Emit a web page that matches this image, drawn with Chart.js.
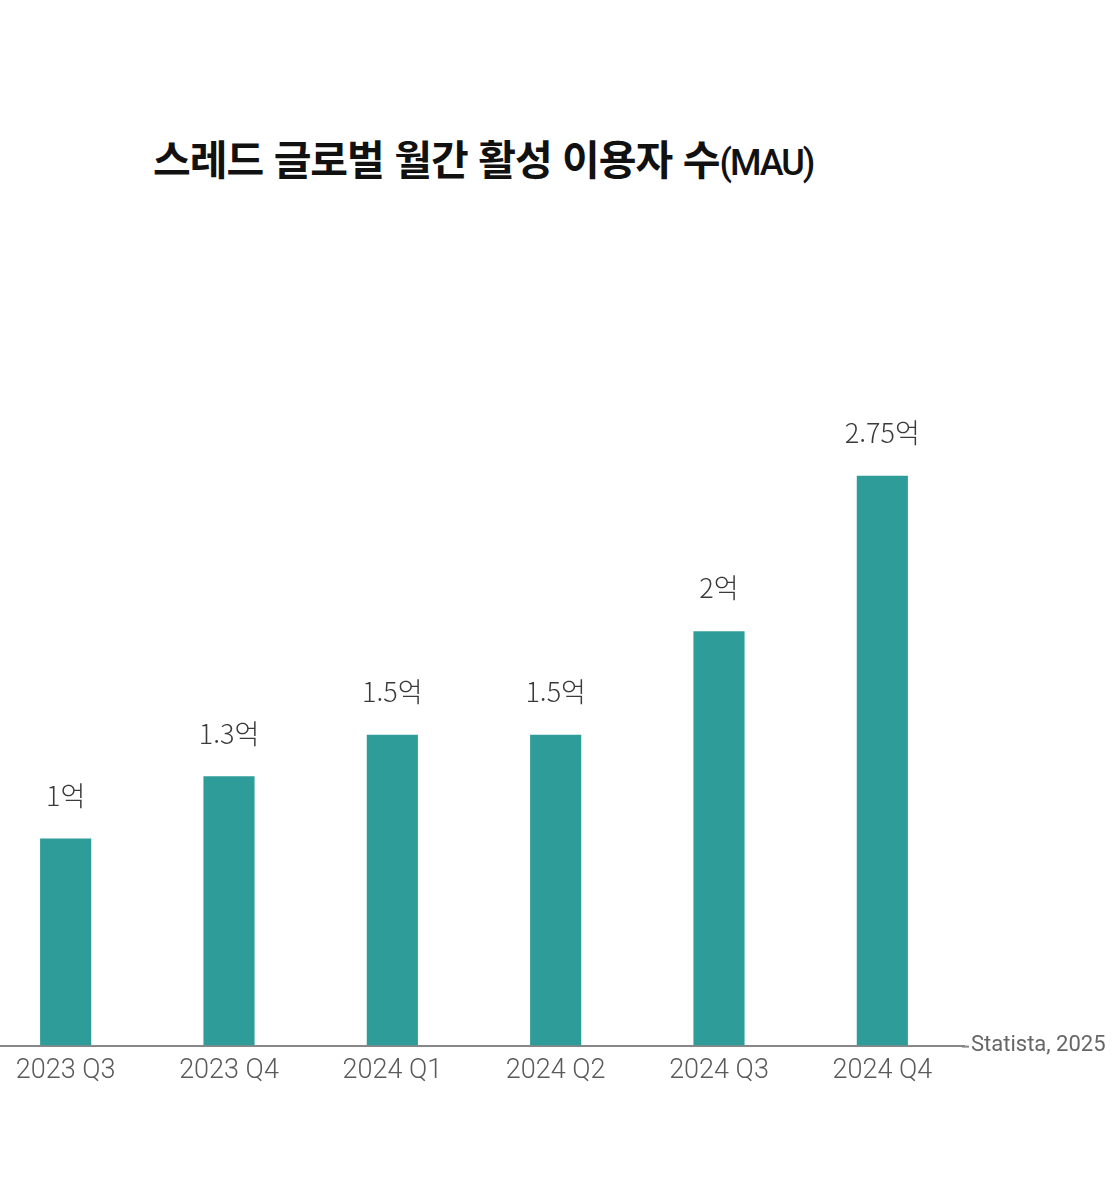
<!DOCTYPE html>
<html lang="ko">
<head>
  <meta charset="UTF-8">
  <title>스레드 글로벌 월간 활성 이용자 수(MAU)</title>
  <script src="https://cdn.jsdelivr.net/npm/chart.js"></script>
  <style>
    html, body {
      margin: 0;
      padding: 0;
      background: #fff;
      width: 1120px;
      height: 1183px;
      overflow: hidden;
      position: relative;
    }

    h1 {
      position: absolute;
      left: 153px;
      top: 137px;
      margin: 0;
      line-height: 1;
      font-family: 'Noto Sans CJK KR', sans-serif;
      font-weight: 700;
      font-size: 41px;
      letter-spacing: -1px;
      color: #111;
      white-space: nowrap;
    }

    h1 span {
      font-family: 'Roboto', sans-serif;
      font-weight: 500;
      font-size: 36px;
      letter-spacing: -2px;
    }

    #wrap {
      position: absolute;
      left: -16px;
      top: 300px;
    }
  </style>
</head>
<body>

  <h1>스레드 글로벌 월간 활성 이용자 수<span>(MAU)</span></h1>

  <div id="wrap">
    <canvas id="barCanvas" width="1136" height="820"></canvas>
  </div>

  <script>
    // 분기별 MAU (단위: 억 명)
    const quarters = ['2023 Q3', '2023 Q4', '2024 Q1', '2024 Q2', '2024 Q3', '2024 Q4'];
    const mau = [1, 1.3, 1.5, 1.5, 2, 2.75];
    const sourceText = 'Statista, 2025';

    const valueLabels = {
      id: 'valueLabels',
      afterDatasetsDraw(chart) {
        const ctx = chart.ctx;
        const meta = chart.getDatasetMeta(0);
        ctx.save();
        ctx.font = '300 27px "Noto Sans CJK KR", sans-serif';
        ctx.fillStyle = '#3a3a3a';
        ctx.textAlign = 'center';
        ctx.textBaseline = 'middle';
        meta.data.forEach((bar, i) => {
          ctx.fillText(mau[i] + '억', bar.x, bar.y - 43);
        });
        ctx.restore();
      }
    };

    const sourceLabel = {
      id: 'sourceLabel',
      afterDraw(chart) {
        const ctx = chart.ctx;
        const area = chart.chartArea;
        ctx.save();
        // 축선 오른쪽 끝 약간 연장
        ctx.strokeStyle = '#888';
        ctx.lineWidth = 2;
        ctx.beginPath();
        ctx.moveTo(area.right - 2, area.bottom + 1);
        ctx.lineTo(area.right + 5, area.bottom + 1);
        ctx.stroke();
        ctx.font = '22px Roboto, sans-serif';
        ctx.fillStyle = '#666';
        ctx.textAlign = 'left';
        ctx.textBaseline = 'middle';
        ctx.fillText(sourceText, area.right + 7, area.bottom);
        ctx.restore();
      }
    };

    const ctx = document.getElementById('barCanvas').getContext('2d');

    new Chart(ctx, {
      type: 'bar',
      data: {
        labels: quarters,
        datasets: [{
          data: mau,
          backgroundColor: '#2e9c98',
          borderWidth: 0,
          barPercentage: 0.313,
          categoryPercentage: 1
        }]
      },
      options: {
        responsive: false,
        animation: false,
        layout: {
          padding: { top: 124, right: 156, bottom: 32, left: 0 }
        },
        plugins: {
          legend: { display: false },
          tooltip: { enabled: false }
        },
        scales: {
          x: {
            grid: { display: false },
            border: { display: true, color: '#888', width: 2 },
            ticks: {
              color: '#5a5a5a',
              padding: 1,
              font: { family: 'Roboto', size: 27, weight: 300 }
            }
          },
          y: {
            display: false,
            min: 0,
            max: 3
          }
        }
      },
      plugins: [valueLabels, sourceLabel]
    });
  </script>

</body>
</html>
